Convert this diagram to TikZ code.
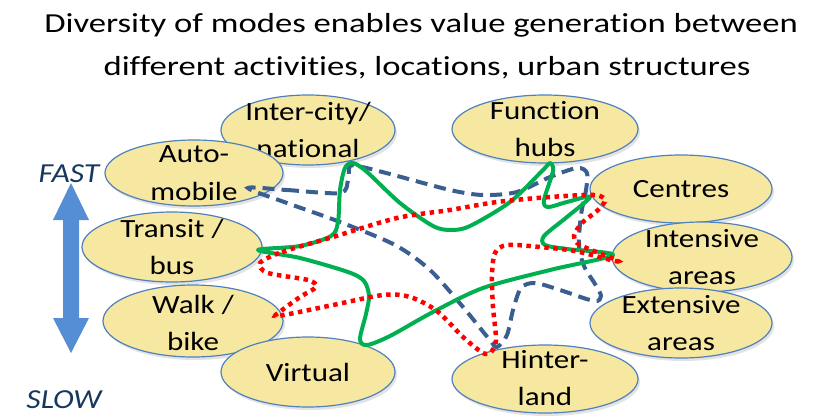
\documentclass[tikz,border=0pt]{standalone}
\usepackage{fontspec}
\setmainfont{Carlito}[FakeStretch=1.18, Ligatures=NoCommon]
\newfontfamily\titlefont{Carlito}[FakeStretch=1.26, Ligatures=NoCommon]
\newfontfamily\speedfont{Carlito}[FakeStretch=1.15, Ligatures=NoCommon]
\usepackage{tikz}
\usetikzlibrary{calc, shapes.geometric, shadows}
\definecolor{modefill}{RGB}{246,231,161}
\definecolor{modeline}{RGB}{79,129,189}
\definecolor{speedblue}{RGB}{85,142,213}
\definecolor{speedtext}{RGB}{23,55,94}
\definecolor{loopgreen}{RGB}{0,176,80}
\definecolor{loopblue}{RGB}{59,94,145}
\definecolor{loopred}{RGB}{255,0,0}

\begin{document}
\begin{tikzpicture}[x=1pt, y=-1pt,
    mode/.style={ellipse, draw=modeline, line width=1.2pt, fill=modefill, inner sep=0pt,
      drop shadow={opacity=0.22, shadow xshift=2pt, shadow yshift=-3pt}},
    modetext/.style={font=\fontsize{26.3}{37.5}\selectfont, align=center, inner sep=0pt},
    titleline/.style={font=\titlefont\fontsize{27.5}{30}\selectfont, anchor=base, inner sep=0pt},
    speedlabel/.style={font=\speedfont\fontsize{27.5}{30}\selectfont\itshape, text=speedtext,
      anchor=base, inner sep=0pt},
    greenloop/.style={draw=loopgreen, line width=4pt, line join=round},
    blueloop/.style={draw=loopblue, line width=4pt, dash pattern=on 12pt off 7pt},
    redloop/.style={draw=loopred, line width=4.5pt, dash pattern=on 4.5pt off 4.5pt}]
  \useasboundingbox (0,0) rectangle (821,415);

  % title
  \node[titleline] (title1) at (421,32) {Diversity of modes enables value generation between};
  \node[titleline] (title2) at (427,75) {different activities, locations, urban structures};

  % speed scale
  \fill[speedblue] (71,183) -- (89,220) -- (79,220) -- (79,318) -- (89,318) -- (71,353)
    -- (53,318) -- (63,318) -- (63,220) -- (53,220) -- cycle;
  \node[speedlabel] (fast) at (69,182) {FAST};
  \node[speedlabel] (slow) at (64,408) {SLOW};

  % modes (left)
  \node[mode, minimum width=174, minimum height=70] (inter) at (308,130) {};
  \node[modetext] at (inter) {Inter-city/\\national};
  \node[mode, minimum width=178, minimum height=66] (auto) at (194,173) {};
  \node[modetext] at (auto) {Auto-\\mobile};
  \node[mode, minimum width=180, minimum height=70] (transit) at (172,247) {};
  \node[modetext] at (transit) {Transit /\\bus};
  \node[mode, minimum width=180, minimum height=72] (walk) at (193,321) {};
  \node[modetext] at ($(walk)+(0,2)$) {Walk /\\bike};
  \node[mode, minimum width=174, minimum height=70] (virtual) at (308,372) {};
  \node[modetext] at (virtual) {Virtual};

  % places (right)
  \node[mode, minimum width=186, minimum height=68] (hubs) at (545,129) {};
  \node[modetext] at (hubs) {Function\\hubs};
  \node[mode, minimum width=182, minimum height=68] (centres) at (681,189) {};
  \node[modetext] at (centres) {Centres};
  \node[mode, minimum width=180, minimum height=70] (intensive) at (702,257) {};
  \node[modetext] at (intensive) {Intensive\\areas};
  \node[mode, minimum width=182, minimum height=70] (extensive) at (681,323) {};
  \node[modetext] at (extensive) {Extensive\\areas};
  \node[mode, minimum width=186, minimum height=68] (hinter) at (545,379) {};
  \node[modetext] at ($(hinter)+(0,-1)$) {Hinter-\\land};

  % blue dashed loop
  \draw[blueloop] plot[smooth cycle, tension=0.5] coordinates {
    ($(auto)+(54,15)$) (287,190) (340,193) (348,180) (350,166) (362,167) (390,174)
    (450,190) (483,195) (517,192) (550,177) (577,168) (587,173) (586,190)
    (581,215) (579,245) (584,266) (595,284) (601,296) (594,301) (560,290)
    (535,283) (521,288) (513,310) (507,335) ($(hinter)+(-48,-32)$) (489,339)
    (463,307) (430,270) (395,245) (340,222) (287,203)};

  % green solid loop
  \draw[greenloop] plot[smooth cycle, tension=0.5] coordinates {
    ($(transit)+(86,3)$) (300,246) (331,236) (338,222) (340,190) (345,168)
    (353,163) (367,172) (400,203) (433,226) (451,230) (470,226) (510,202)
    (543,170) (550,163) (553,171) (544,200) (548,207) (567,202)
    ($(centres)+(-91,8)$) (567,217) (544,236) (545,245) (567,249)
    ($(intensive)+(-89,-2)$) (550,270) (483,288) (433,312) (390,336) (367,345)
    (360,339) (366,314) (369,296) (364,281) (348,272) (300,258)};

  % red dotted loop
  \draw[redloop] plot[smooth cycle, tension=0.5] coordinates {
    ($(transit)+(88,16)$) (282,252) (333,237) (397,218) (450,210) (497,202)
    (550,197) ($(centres)+(-87,6)$) (605,200) (598,210) (582,223) (574,236)
    (580,245) ($(intensive)+(-88,2)$) (615,261) (575,251) (540,247) (507,245)
    (495,253) (492,275) (493,307) (496,340) (491,352) ($(hinter)+(-62,-26)$)
    (463,337) (437,311) (410,297) (383,295) (333,305) ($(walk)+(85,-5)$)
    (281,311) (300,297) (316,287) (308,280) (268,273)};
\end{tikzpicture}
\end{document}
